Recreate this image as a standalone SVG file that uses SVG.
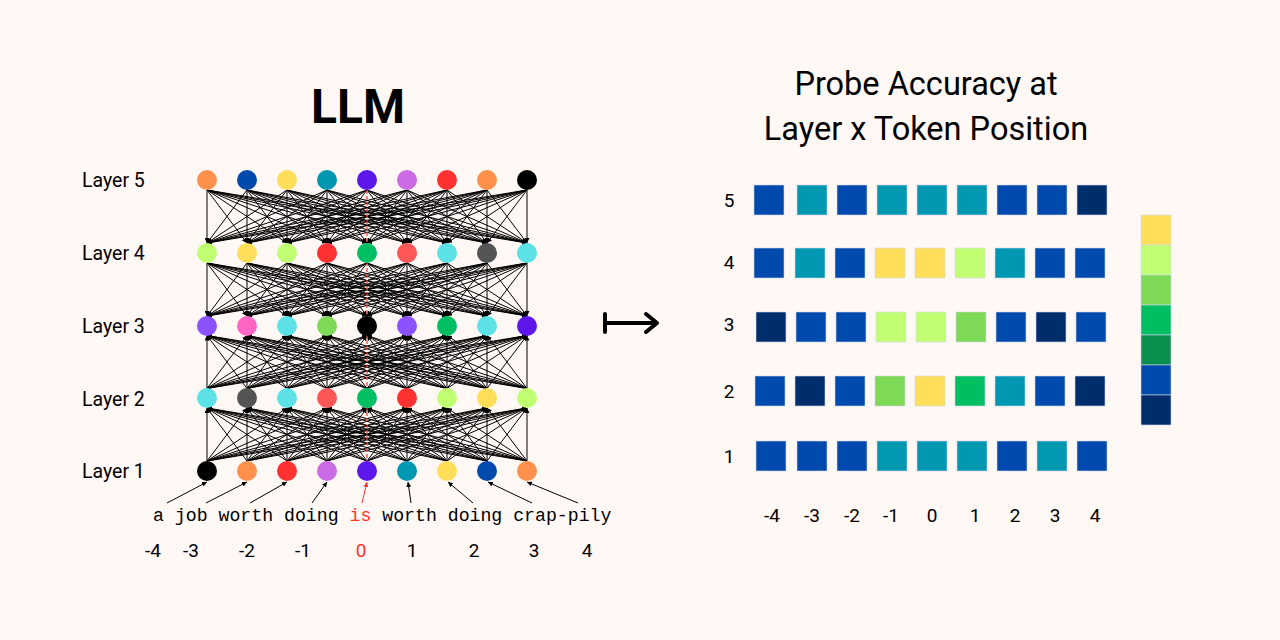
<svg xmlns="http://www.w3.org/2000/svg" width="1280" height="640" viewBox="0 0 1280 640">
<style>
.bg{fill:#fff8f5}
.sans{font-family:Roboto,"Liberation Sans",Arial,sans-serif;fill:#000}
.lbl{font-size:19.5px}
.num{font-size:19px;text-anchor:middle}
.mono{font-family:"Liberation Mono","DejaVu Sans Mono",monospace;font-size:18.2px;fill:#000}
.dn line{stroke:#000;stroke-width:1;marker-end:url(#ah)}
.up line{stroke:#000;stroke-width:1;marker-start:url(#ah)}
.tok{stroke:#000;stroke-width:1;marker-end:url(#ah)}
.red{stroke:#ff3131;stroke-width:1.2;stroke-dasharray:4 2;fill:none}
.cell{stroke:#cfd8ea;stroke-width:0.6}
.B{fill:#004aad}.T{fill:#0097b2}.N{fill:#002d6b}.Y{fill:#ffde59}.LG{fill:#c1ff72}.G{fill:#7ed957}.E{fill:#00bf63}.DG{fill:#0a8f4f}
</style>
<defs>
<marker id="ah" viewBox="0 0 6 6" refX="6" refY="3" markerWidth="5" markerHeight="5" markerUnits="userSpaceOnUse" orient="auto-start-reverse"><path d="M0,0 L6,3 L0,6 z" fill="#000"/></marker>
<marker id="ahr" viewBox="0 0 6 6" refX="6" refY="3" markerWidth="5" markerHeight="5" markerUnits="userSpaceOnUse" orient="auto-start-reverse"><path d="M0,0 L6,3 L0,6 z" fill="#ff3131"/></marker>
</defs>
<rect class="bg" x="0" y="0" width="1280" height="640"/>

<g id="title-llm"><text class="sans" x="358" y="123" font-size="48" font-weight="bold" text-anchor="middle">LLM</text></g>

<g id="layer-labels" class="sans lbl">
<text x="82" y="187">Layer 5</text>
<text x="82" y="260">Layer 4</text>
<text x="82" y="333">Layer 3</text>
<text x="82" y="406">Layer 2</text>
<text x="82" y="478">Layer 1</text>
</g>

<g id="connectors">
<g class="dn" transform="translate(0,190)">
<line x1="207" x2="207" y2="53"/><line x1="207" x2="247" y2="53"/><line x1="207" x2="287" y2="53"/><line x1="207" x2="327" y2="53"/><line x1="207" x2="367" y2="53"/><line x1="207" x2="407" y2="53"/><line x1="207" x2="447" y2="53"/><line x1="207" x2="487" y2="53"/><line x1="207" x2="527" y2="53"/>
<line x1="247" x2="207" y2="53"/><line x1="247" x2="247" y2="53"/><line x1="247" x2="287" y2="53"/><line x1="247" x2="327" y2="53"/><line x1="247" x2="367" y2="53"/><line x1="247" x2="407" y2="53"/><line x1="247" x2="447" y2="53"/><line x1="247" x2="487" y2="53"/><line x1="247" x2="527" y2="53"/>
<line x1="287" x2="207" y2="53"/><line x1="287" x2="247" y2="53"/><line x1="287" x2="287" y2="53"/><line x1="287" x2="327" y2="53"/><line x1="287" x2="367" y2="53"/><line x1="287" x2="407" y2="53"/><line x1="287" x2="447" y2="53"/><line x1="287" x2="487" y2="53"/><line x1="287" x2="527" y2="53"/>
<line x1="327" x2="207" y2="53"/><line x1="327" x2="247" y2="53"/><line x1="327" x2="287" y2="53"/><line x1="327" x2="327" y2="53"/><line x1="327" x2="367" y2="53"/><line x1="327" x2="407" y2="53"/><line x1="327" x2="447" y2="53"/><line x1="327" x2="487" y2="53"/><line x1="327" x2="527" y2="53"/>
<line x1="367" x2="207" y2="53"/><line x1="367" x2="247" y2="53"/><line x1="367" x2="287" y2="53"/><line x1="367" x2="327" y2="53"/><line x1="367" x2="407" y2="53"/><line x1="367" x2="447" y2="53"/><line x1="367" x2="487" y2="53"/><line x1="367" x2="527" y2="53"/>
<line x1="407" x2="207" y2="53"/><line x1="407" x2="247" y2="53"/><line x1="407" x2="287" y2="53"/><line x1="407" x2="327" y2="53"/><line x1="407" x2="367" y2="53"/><line x1="407" x2="407" y2="53"/><line x1="407" x2="447" y2="53"/><line x1="407" x2="487" y2="53"/><line x1="407" x2="527" y2="53"/>
<line x1="447" x2="207" y2="53"/><line x1="447" x2="247" y2="53"/><line x1="447" x2="287" y2="53"/><line x1="447" x2="327" y2="53"/><line x1="447" x2="367" y2="53"/><line x1="447" x2="407" y2="53"/><line x1="447" x2="447" y2="53"/><line x1="447" x2="487" y2="53"/><line x1="447" x2="527" y2="53"/>
<line x1="487" x2="207" y2="53"/><line x1="487" x2="247" y2="53"/><line x1="487" x2="287" y2="53"/><line x1="487" x2="327" y2="53"/><line x1="487" x2="367" y2="53"/><line x1="487" x2="407" y2="53"/><line x1="487" x2="447" y2="53"/><line x1="487" x2="487" y2="53"/><line x1="487" x2="527" y2="53"/>
<line x1="527" x2="207" y2="53"/><line x1="527" x2="247" y2="53"/><line x1="527" x2="287" y2="53"/><line x1="527" x2="327" y2="53"/><line x1="527" x2="367" y2="53"/><line x1="527" x2="407" y2="53"/><line x1="527" x2="447" y2="53"/><line x1="527" x2="487" y2="53"/><line x1="527" x2="527" y2="53"/>
</g>
<g class="dn" transform="translate(0,263)">
<line x1="207" x2="207" y2="53"/><line x1="207" x2="247" y2="53"/><line x1="207" x2="287" y2="53"/><line x1="207" x2="327" y2="53"/><line x1="207" x2="367" y2="53"/><line x1="207" x2="407" y2="53"/><line x1="207" x2="447" y2="53"/><line x1="207" x2="487" y2="53"/><line x1="207" x2="527" y2="53"/>
<line x1="247" x2="207" y2="53"/><line x1="247" x2="247" y2="53"/><line x1="247" x2="287" y2="53"/><line x1="247" x2="327" y2="53"/><line x1="247" x2="367" y2="53"/><line x1="247" x2="407" y2="53"/><line x1="247" x2="447" y2="53"/><line x1="247" x2="487" y2="53"/><line x1="247" x2="527" y2="53"/>
<line x1="287" x2="207" y2="53"/><line x1="287" x2="247" y2="53"/><line x1="287" x2="287" y2="53"/><line x1="287" x2="327" y2="53"/><line x1="287" x2="367" y2="53"/><line x1="287" x2="407" y2="53"/><line x1="287" x2="447" y2="53"/><line x1="287" x2="487" y2="53"/><line x1="287" x2="527" y2="53"/>
<line x1="327" x2="207" y2="53"/><line x1="327" x2="247" y2="53"/><line x1="327" x2="287" y2="53"/><line x1="327" x2="327" y2="53"/><line x1="327" x2="367" y2="53"/><line x1="327" x2="407" y2="53"/><line x1="327" x2="447" y2="53"/><line x1="327" x2="487" y2="53"/><line x1="327" x2="527" y2="53"/>
<line x1="367" x2="207" y2="53"/><line x1="367" x2="247" y2="53"/><line x1="367" x2="287" y2="53"/><line x1="367" x2="327" y2="53"/><line x1="367" x2="407" y2="53"/><line x1="367" x2="447" y2="53"/><line x1="367" x2="487" y2="53"/><line x1="367" x2="527" y2="53"/>
<line x1="407" x2="207" y2="53"/><line x1="407" x2="247" y2="53"/><line x1="407" x2="287" y2="53"/><line x1="407" x2="327" y2="53"/><line x1="407" x2="367" y2="53"/><line x1="407" x2="407" y2="53"/><line x1="407" x2="447" y2="53"/><line x1="407" x2="487" y2="53"/><line x1="407" x2="527" y2="53"/>
<line x1="447" x2="207" y2="53"/><line x1="447" x2="247" y2="53"/><line x1="447" x2="287" y2="53"/><line x1="447" x2="327" y2="53"/><line x1="447" x2="367" y2="53"/><line x1="447" x2="407" y2="53"/><line x1="447" x2="447" y2="53"/><line x1="447" x2="487" y2="53"/><line x1="447" x2="527" y2="53"/>
<line x1="487" x2="207" y2="53"/><line x1="487" x2="247" y2="53"/><line x1="487" x2="287" y2="53"/><line x1="487" x2="327" y2="53"/><line x1="487" x2="367" y2="53"/><line x1="487" x2="407" y2="53"/><line x1="487" x2="447" y2="53"/><line x1="487" x2="487" y2="53"/><line x1="487" x2="527" y2="53"/>
<line x1="527" x2="207" y2="53"/><line x1="527" x2="247" y2="53"/><line x1="527" x2="287" y2="53"/><line x1="527" x2="327" y2="53"/><line x1="527" x2="367" y2="53"/><line x1="527" x2="407" y2="53"/><line x1="527" x2="447" y2="53"/><line x1="527" x2="487" y2="53"/><line x1="527" x2="527" y2="53"/>
</g>
<g class="up" transform="translate(0,335.5)">
<line x1="207" x2="207" y2="53"/><line x1="207" x2="247" y2="53"/><line x1="207" x2="287" y2="53"/><line x1="207" x2="327" y2="53"/><line x1="207" x2="367" y2="53"/><line x1="207" x2="407" y2="53"/><line x1="207" x2="447" y2="53"/><line x1="207" x2="487" y2="53"/><line x1="207" x2="527" y2="53"/>
<line x1="247" x2="207" y2="53"/><line x1="247" x2="247" y2="53"/><line x1="247" x2="287" y2="53"/><line x1="247" x2="327" y2="53"/><line x1="247" x2="367" y2="53"/><line x1="247" x2="407" y2="53"/><line x1="247" x2="447" y2="53"/><line x1="247" x2="487" y2="53"/><line x1="247" x2="527" y2="53"/>
<line x1="287" x2="207" y2="53"/><line x1="287" x2="247" y2="53"/><line x1="287" x2="287" y2="53"/><line x1="287" x2="327" y2="53"/><line x1="287" x2="367" y2="53"/><line x1="287" x2="407" y2="53"/><line x1="287" x2="447" y2="53"/><line x1="287" x2="487" y2="53"/><line x1="287" x2="527" y2="53"/>
<line x1="327" x2="207" y2="53"/><line x1="327" x2="247" y2="53"/><line x1="327" x2="287" y2="53"/><line x1="327" x2="327" y2="53"/><line x1="327" x2="367" y2="53"/><line x1="327" x2="407" y2="53"/><line x1="327" x2="447" y2="53"/><line x1="327" x2="487" y2="53"/><line x1="327" x2="527" y2="53"/>
<line x1="367" x2="207" y2="53"/><line x1="367" x2="247" y2="53"/><line x1="367" x2="287" y2="53"/><line x1="367" x2="327" y2="53"/><line x1="367" x2="407" y2="53"/><line x1="367" x2="447" y2="53"/><line x1="367" x2="487" y2="53"/><line x1="367" x2="527" y2="53"/>
<line x1="407" x2="207" y2="53"/><line x1="407" x2="247" y2="53"/><line x1="407" x2="287" y2="53"/><line x1="407" x2="327" y2="53"/><line x1="407" x2="367" y2="53"/><line x1="407" x2="407" y2="53"/><line x1="407" x2="447" y2="53"/><line x1="407" x2="487" y2="53"/><line x1="407" x2="527" y2="53"/>
<line x1="447" x2="207" y2="53"/><line x1="447" x2="247" y2="53"/><line x1="447" x2="287" y2="53"/><line x1="447" x2="327" y2="53"/><line x1="447" x2="367" y2="53"/><line x1="447" x2="407" y2="53"/><line x1="447" x2="447" y2="53"/><line x1="447" x2="487" y2="53"/><line x1="447" x2="527" y2="53"/>
<line x1="487" x2="207" y2="53"/><line x1="487" x2="247" y2="53"/><line x1="487" x2="287" y2="53"/><line x1="487" x2="327" y2="53"/><line x1="487" x2="367" y2="53"/><line x1="487" x2="407" y2="53"/><line x1="487" x2="447" y2="53"/><line x1="487" x2="487" y2="53"/><line x1="487" x2="527" y2="53"/>
<line x1="527" x2="207" y2="53"/><line x1="527" x2="247" y2="53"/><line x1="527" x2="287" y2="53"/><line x1="527" x2="327" y2="53"/><line x1="527" x2="367" y2="53"/><line x1="527" x2="407" y2="53"/><line x1="527" x2="447" y2="53"/><line x1="527" x2="487" y2="53"/><line x1="527" x2="527" y2="53"/>
</g>
<g class="up" transform="translate(0,408)">
<line x1="207" x2="207" y2="53"/><line x1="207" x2="247" y2="53"/><line x1="207" x2="287" y2="53"/><line x1="207" x2="327" y2="53"/><line x1="207" x2="367" y2="53"/><line x1="207" x2="407" y2="53"/><line x1="207" x2="447" y2="53"/><line x1="207" x2="487" y2="53"/><line x1="207" x2="527" y2="53"/>
<line x1="247" x2="207" y2="53"/><line x1="247" x2="247" y2="53"/><line x1="247" x2="287" y2="53"/><line x1="247" x2="327" y2="53"/><line x1="247" x2="367" y2="53"/><line x1="247" x2="407" y2="53"/><line x1="247" x2="447" y2="53"/><line x1="247" x2="487" y2="53"/><line x1="247" x2="527" y2="53"/>
<line x1="287" x2="207" y2="53"/><line x1="287" x2="247" y2="53"/><line x1="287" x2="287" y2="53"/><line x1="287" x2="327" y2="53"/><line x1="287" x2="367" y2="53"/><line x1="287" x2="407" y2="53"/><line x1="287" x2="447" y2="53"/><line x1="287" x2="487" y2="53"/><line x1="287" x2="527" y2="53"/>
<line x1="327" x2="207" y2="53"/><line x1="327" x2="247" y2="53"/><line x1="327" x2="287" y2="53"/><line x1="327" x2="327" y2="53"/><line x1="327" x2="367" y2="53"/><line x1="327" x2="407" y2="53"/><line x1="327" x2="447" y2="53"/><line x1="327" x2="487" y2="53"/><line x1="327" x2="527" y2="53"/>
<line x1="367" x2="207" y2="53"/><line x1="367" x2="247" y2="53"/><line x1="367" x2="287" y2="53"/><line x1="367" x2="327" y2="53"/><line x1="367" x2="407" y2="53"/><line x1="367" x2="447" y2="53"/><line x1="367" x2="487" y2="53"/><line x1="367" x2="527" y2="53"/>
<line x1="407" x2="207" y2="53"/><line x1="407" x2="247" y2="53"/><line x1="407" x2="287" y2="53"/><line x1="407" x2="327" y2="53"/><line x1="407" x2="367" y2="53"/><line x1="407" x2="407" y2="53"/><line x1="407" x2="447" y2="53"/><line x1="407" x2="487" y2="53"/><line x1="407" x2="527" y2="53"/>
<line x1="447" x2="207" y2="53"/><line x1="447" x2="247" y2="53"/><line x1="447" x2="287" y2="53"/><line x1="447" x2="327" y2="53"/><line x1="447" x2="367" y2="53"/><line x1="447" x2="407" y2="53"/><line x1="447" x2="447" y2="53"/><line x1="447" x2="487" y2="53"/><line x1="447" x2="527" y2="53"/>
<line x1="487" x2="207" y2="53"/><line x1="487" x2="247" y2="53"/><line x1="487" x2="287" y2="53"/><line x1="487" x2="327" y2="53"/><line x1="487" x2="367" y2="53"/><line x1="487" x2="407" y2="53"/><line x1="487" x2="447" y2="53"/><line x1="487" x2="487" y2="53"/><line x1="487" x2="527" y2="53"/>
<line x1="527" x2="207" y2="53"/><line x1="527" x2="247" y2="53"/><line x1="527" x2="287" y2="53"/><line x1="527" x2="327" y2="53"/><line x1="527" x2="367" y2="53"/><line x1="527" x2="407" y2="53"/><line x1="527" x2="447" y2="53"/><line x1="527" x2="487" y2="53"/><line x1="527" x2="527" y2="53"/>
</g>
<line class="red" x1="367" y1="190" x2="367" y2="461"/>
<line class="tok" x1="167" y1="503" x2="207" y2="482"/>
<line class="tok" x1="206" y1="503" x2="247" y2="482"/>
<line class="tok" x1="250" y1="503" x2="287" y2="482"/>
<line class="tok" x1="312" y1="503" x2="327" y2="482"/>
<line x1="362" y1="503" x2="367" y2="482" stroke="#ff3131" stroke-width="1" marker-end="url(#ahr)"/>
<line class="tok" x1="411" y1="503" x2="408" y2="482"/>
<line class="tok" x1="473" y1="503" x2="448" y2="482"/>
<line class="tok" x1="532" y1="503" x2="488" y2="482"/>
<line class="tok" x1="578" y1="503" x2="527" y2="482"/>
</g>

<g id="layer5-nodes">
<circle cx="207" cy="180" r="10" fill="#ff914d"/><circle cx="247" cy="180" r="10" fill="#004aad"/><circle cx="287" cy="180" r="10" fill="#ffde59"/><circle cx="327" cy="180" r="10" fill="#0097b2"/><circle cx="367" cy="180" r="10" fill="#5e17eb"/><circle cx="407" cy="180" r="10" fill="#cb6ce6"/><circle cx="447" cy="180" r="10" fill="#ff3131"/><circle cx="487" cy="180" r="10" fill="#ff914d"/><circle cx="527" cy="180" r="10" fill="#000000"/>
</g>
<g id="layer4-nodes">
<circle cx="207" cy="253" r="10" fill="#c1ff72"/><circle cx="247" cy="253" r="10" fill="#ffde59"/><circle cx="287" cy="253" r="10" fill="#c1ff72"/><circle cx="327" cy="253" r="10" fill="#ff3131"/><circle cx="367" cy="253" r="10" fill="#00bf63"/><circle cx="407" cy="253" r="10" fill="#ff5757"/><circle cx="447" cy="253" r="10" fill="#5ce1e6"/><circle cx="487" cy="253" r="10" fill="#545454"/><circle cx="527" cy="253" r="10" fill="#5ce1e6"/>
</g>
<g id="layer3-nodes">
<circle cx="207" cy="326" r="10" fill="#8c52ff"/><circle cx="247" cy="326" r="10" fill="#ff66c4"/><circle cx="287" cy="326" r="10" fill="#5ce1e6"/><circle cx="327" cy="326" r="10" fill="#7ed957"/><circle cx="367" cy="326" r="10" fill="#000000"/><circle cx="407" cy="326" r="10" fill="#8c52ff"/><circle cx="447" cy="326" r="10" fill="#00bf63"/><circle cx="487" cy="326" r="10" fill="#5ce1e6"/><circle cx="527" cy="326" r="10" fill="#5e17eb"/>
</g>
<g id="layer2-nodes">
<circle cx="207" cy="398" r="10" fill="#5ce1e6"/><circle cx="247" cy="398" r="10" fill="#545454"/><circle cx="287" cy="398" r="10" fill="#5ce1e6"/><circle cx="327" cy="398" r="10" fill="#ff5757"/><circle cx="367" cy="398" r="10" fill="#00bf63"/><circle cx="407" cy="398" r="10" fill="#ff3131"/><circle cx="447" cy="398" r="10" fill="#c1ff72"/><circle cx="487" cy="398" r="10" fill="#ffde59"/><circle cx="527" cy="398" r="10" fill="#c1ff72"/>
</g>
<g id="layer1-nodes">
<circle cx="207" cy="471" r="10" fill="#000000"/><circle cx="247" cy="471" r="10" fill="#ff914d"/><circle cx="287" cy="471" r="10" fill="#ff3131"/><circle cx="327" cy="471" r="10" fill="#cb6ce6"/><circle cx="367" cy="471" r="10" fill="#5e17eb"/><circle cx="407" cy="471" r="10" fill="#0097b2"/><circle cx="447" cy="471" r="10" fill="#ffde59"/><circle cx="487" cy="471" r="10" fill="#004aad"/><circle cx="527" cy="471" r="10" fill="#ff914d"/>
</g>

<g id="tokens">
<text class="mono" x="153" y="521" xml:space="preserve">a job worth doing <tspan fill="#ff3131">is</tspan> worth doing crap-pily</text>
</g>
<g id="positions" class="sans num">
<text x="153" y="557">-4</text><text x="191" y="557">-3</text><text x="247" y="557">-2</text><text x="303" y="557">-1</text><text x="361" y="557" style="fill:#ff3131">0</text><text x="412" y="557">1</text><text x="474" y="557">2</text><text x="534" y="557">3</text><text x="587" y="557">4</text>
</g>

<g id="maps-to"><path d="M605,314 V332 M605,323 H657 M646,314 L657,323 L646,332" fill="none" stroke="#000" stroke-width="4" stroke-linecap="round" stroke-linejoin="round"/></g>

<g id="title-probe" class="sans" font-size="32.5" text-anchor="middle">
<text x="926" y="95">Probe Accuracy at</text>
<text x="926" y="140">Layer x Token Position</text>
</g>

<g id="row-labels" class="sans num">
<text x="729" y="207">5</text><text x="729" y="269">4</text><text x="729" y="331">3</text><text x="729" y="398">2</text><text x="729" y="463">1</text>
</g>
<g id="col-labels" class="sans num">
<text x="772" y="522">-4</text><text x="812" y="522">-3</text><text x="852" y="522">-2</text><text x="891" y="522">-1</text><text x="932" y="522">0</text><text x="975" y="522">1</text><text x="1015" y="522">2</text><text x="1055" y="522">3</text><text x="1095" y="522">4</text>
</g>

<g id="grid-row5">
<rect class="cell B" x="754" y="185" width="30" height="30"/><rect class="cell T" x="797" y="185" width="30" height="30"/><rect class="cell B" x="837" y="185" width="30" height="30"/><rect class="cell T" x="877" y="185" width="30" height="30"/><rect class="cell T" x="917" y="185" width="30" height="30"/><rect class="cell T" x="957" y="185" width="30" height="30"/><rect class="cell B" x="997" y="185" width="30" height="30"/><rect class="cell B" x="1037" y="185" width="30" height="30"/><rect class="cell N" x="1077" y="185" width="30" height="30"/>
</g>
<g id="grid-row4">
<rect class="cell B" x="754" y="248" width="30" height="30"/><rect class="cell T" x="795" y="248" width="30" height="30"/><rect class="cell B" x="835" y="248" width="30" height="30"/><rect class="cell Y" x="875" y="248" width="30" height="30"/><rect class="cell Y" x="915" y="248" width="30" height="30"/><rect class="cell LG" x="955" y="248" width="30" height="30"/><rect class="cell T" x="995" y="248" width="30" height="30"/><rect class="cell B" x="1035" y="248" width="30" height="30"/><rect class="cell B" x="1075" y="248" width="30" height="30"/>
</g>
<g id="grid-row3">
<rect class="cell N" x="756" y="312" width="30" height="30"/><rect class="cell B" x="796" y="312" width="30" height="30"/><rect class="cell B" x="836" y="312" width="30" height="30"/><rect class="cell LG" x="876" y="312" width="30" height="30"/><rect class="cell LG" x="916" y="312" width="30" height="30"/><rect class="cell G" x="956" y="312" width="30" height="30"/><rect class="cell B" x="996" y="312" width="30" height="30"/><rect class="cell N" x="1036" y="312" width="30" height="30"/><rect class="cell B" x="1076" y="312" width="30" height="30"/>
</g>
<g id="grid-row2">
<rect class="cell B" x="755" y="376" width="30" height="30"/><rect class="cell N" x="795" y="376" width="30" height="30"/><rect class="cell B" x="835" y="376" width="30" height="30"/><rect class="cell G" x="875" y="376" width="30" height="30"/><rect class="cell Y" x="915" y="376" width="30" height="30"/><rect class="cell E" x="955" y="376" width="30" height="30"/><rect class="cell T" x="995" y="376" width="30" height="30"/><rect class="cell B" x="1035" y="376" width="30" height="30"/><rect class="cell N" x="1075" y="376" width="30" height="30"/>
</g>
<g id="grid-row1">
<rect class="cell B" x="756" y="441" width="30" height="30"/><rect class="cell B" x="797" y="441" width="30" height="30"/><rect class="cell B" x="837" y="441" width="30" height="30"/><rect class="cell T" x="877" y="441" width="30" height="30"/><rect class="cell T" x="917" y="441" width="30" height="30"/><rect class="cell T" x="957" y="441" width="30" height="30"/><rect class="cell B" x="997" y="441" width="30" height="30"/><rect class="cell T" x="1037" y="441" width="30" height="30"/><rect class="cell B" x="1077" y="441" width="30" height="30"/>
</g>

<g id="colorbar">
<rect class="cell Y" x="1141" y="215" width="30" height="30"/>
<rect class="cell LG" x="1141" y="245" width="30" height="30"/>
<rect class="cell G" x="1141" y="275" width="30" height="30"/>
<rect class="cell E" x="1141" y="305" width="30" height="30"/>
<rect class="cell DG" x="1141" y="335" width="30" height="30"/>
<rect class="cell B" x="1141" y="365" width="30" height="30"/>
<rect class="cell N" x="1141" y="395" width="30" height="30"/>
</g>
</svg>
